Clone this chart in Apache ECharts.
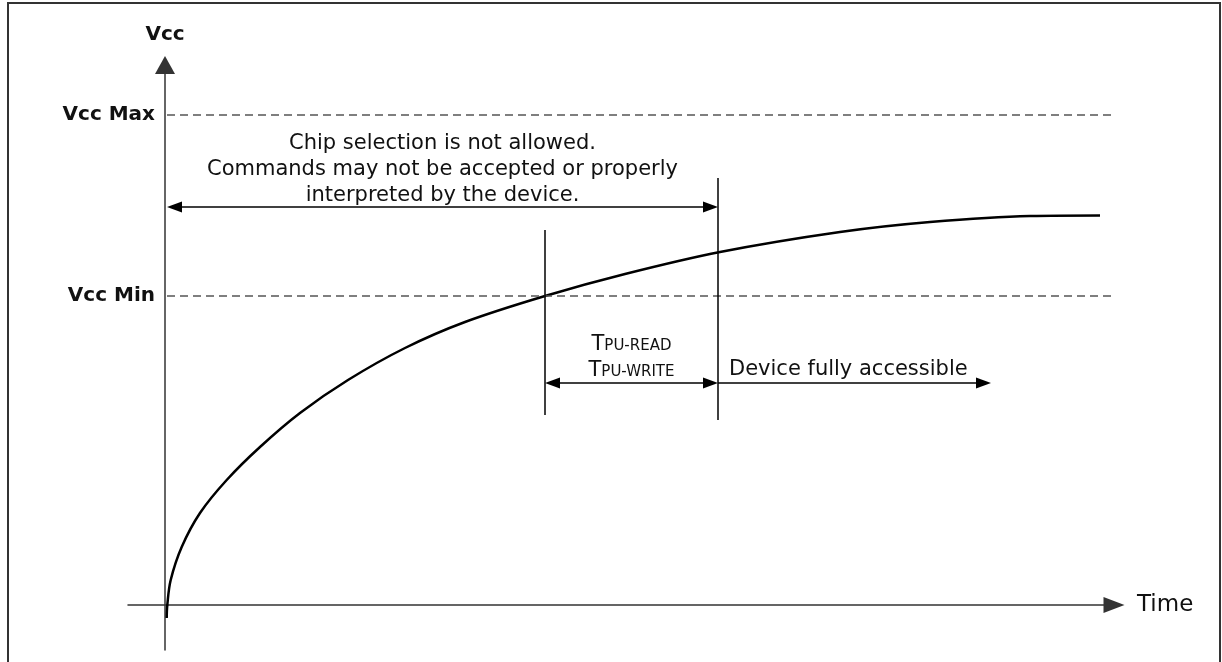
<!DOCTYPE html>
<html>
<head>
    <meta charset="utf-8">
    <script src="https://cdn.jsdelivr.net/npm/echarts@6/dist/echarts.min.js"></script>
    <style>
        body { margin: 0; background: #fff; }
        #main { position: absolute; left: 0; top: 0; width: 1222px; height: 662px; }
        #frame { position: absolute; left: 7px; top: 2px; width: 1214px; height: 720px;
                 box-sizing: border-box; border: 2px solid #333; border-bottom: none; pointer-events: none; }
    </style>
</head>
<body>
<div id="main"></div>
<div id="frame"></div>

<script>
    // power-up curve (time, Vcc) in arbitrary units
    var curveT = [1.7, 2.3, 5.7, 16.7, 35, 61.7, 95, 135, 183, 240, 300, 380, 460, 555, 675, 765, 865, 935];
    var curveV = [-13, 0, 25, 58, 92, 125, 158, 192, 225, 257, 283, 309, 331, 353, 373, 383, 389, 389.5];

    // supply limits
    var levelNames = ['Vcc Max', 'Vcc Min'];
    var levelValues = [490, 309];
    var levelSpan = [2, 948];

    // instants: Vcc reaches min, device accessible
    var tMin = 380;
    var tAccess = 553;
    var accessEnd = 826;
    var chipText = 'Chip selection is not allowed.\nCommands may not be accepted or properly\ninterpreted by the device.';
    var tpuText = '{t|T}{s|PU-READ}\n{t|T}{s|PU-WRITE}';
    var accessText = 'Device fully accessible';

    var myChart = echarts.init(document.getElementById('main'));

    var curveData = [];
    for (var i = 0; i < curveT.length; i++) {
        curveData.push([curveT[i], curveV[i]]);
    }

    var levelLines = [];
    for (var j = 0; j < levelNames.length; j++) {
        levelLines.push([
            {name: levelNames[j], coord: [levelSpan[0], levelValues[j]]},
            {coord: [levelSpan[1], levelValues[j]]}
        ]);
    }

    var chipY = 398, tpuY = 222;
    var arrowSize = [11, 15];
    // arrow heads are centred on the line end, pull the ends in so the tips land on the marks
    var inset = arrowSize[1] / 2;

    option = {
        animation: false,
        textStyle: {fontFamily: 'DejaVu Sans'},
        grid: {left: 128, right: 108, top: 65, bottom: 12},
        xAxis: {
            type: 'value',
            min: -37,
            max: 949,
            name: 'Time',
            nameLocation: 'end',
            nameGap: 23,
            nameTextStyle: {fontSize: 23, color: '#111', fontFamily: 'DejaVu Sans'},
            axisLine: {
                show: true,
                onZero: true,
                symbol: ['none', 'triangle'],
                symbolSize: [16, 21],
                lineStyle: {color: '#333', width: 1.5}
            },
            axisTick: {show: false},
            axisLabel: {show: false},
            splitLine: {show: false}
        },
        yAxis: {
            type: 'value',
            min: -45,
            max: 540,
            name: 'Vcc',
            nameLocation: 'end',
            nameGap: 20,
            nameTextStyle: {fontSize: 20, fontWeight: 'bold', color: '#111', fontFamily: 'DejaVu Sans'},
            axisLine: {
                show: true,
                onZero: true,
                symbol: ['none', 'triangle'],
                symbolSize: [20, 18],
                lineStyle: {color: '#333', width: 1.5}
            },
            axisTick: {show: false},
            axisLabel: {show: false},
            splitLine: {show: false}
        },
        series: [
            {
                name: 'Vcc',
                type: 'line',
                data: curveData,
                smooth: 0.35,
                showSymbol: false,
                silent: true,
                lineStyle: {color: '#000', width: 2.5}
            },
            {
                name: 'levels',
                type: 'line',
                data: [],
                markLine: {
                    silent: true,
                    symbol: 'none',
                    lineStyle: {color: '#555', width: 1.5, type: [8, 5]},
                    label: {
                        show: true,
                        position: 'start',
                        distance: 12,
                        formatter: '{b}',
                        color: '#111',
                        fontSize: 20,
                        fontWeight: 'bold',
                        fontFamily: 'DejaVu Sans'
                    },
                    data: levelLines
                }
            },
            {
                name: 'markers',
                type: 'line',
                data: [],
                markLine: {
                    silent: true,
                    symbol: 'none',
                    label: {show: false},
                    lineStyle: {color: '#000', width: 1.5, type: 'solid'},
                    data: [
                        [{coord: [tMin, 375]}, {coord: [tMin, 190]}],
                        [{coord: [tAccess, 427]}, {coord: [tAccess, 185]}]
                    ]
                }
            },
            {
                name: 'spans',
                type: 'line',
                data: [],
                markLine: {
                    silent: true,
                    symbol: 'triangle',
                    symbolSize: arrowSize,
                    lineStyle: {color: '#000', width: 1.5, type: 'solid'},
                    label: {color: '#111', fontSize: 21, fontFamily: 'DejaVu Sans'},
                    data: [
                        [
                            {
                                coord: [levelSpan[0] + inset, chipY],
                                label: {show: true, position: 'middle', distance: -2, formatter: chipText, lineHeight: 26}
                            },
                            {coord: [tAccess - inset, chipY]}
                        ],
                        [
                            {
                                coord: [tMin + inset, tpuY],
                                label: {
                                    show: true, position: 'middle', distance: 2, formatter: tpuText,
                                    rich: {
                                        t: {fontSize: 21, lineHeight: 26, verticalAlign: 'bottom', color: '#111'},
                                        s: {fontSize: 15, lineHeight: 26, verticalAlign: 'bottom', color: '#111', padding: [0, 0, 1, 0]}
                                    }
                                }
                            },
                            {coord: [tAccess - inset, tpuY]}
                        ],
                        [
                            {
                                coord: [tAccess, tpuY],
                                symbol: 'none',
                                label: {show: true, position: 'insideStartTop', distance: 3, padding: [0, 0, 0, 8], formatter: accessText}
                            },
                            {coord: [accessEnd - inset, tpuY]}
                        ]
                    ]
                }
            }
        ]
    };
    myChart.setOption(option);
</script>
</body>
</html>
